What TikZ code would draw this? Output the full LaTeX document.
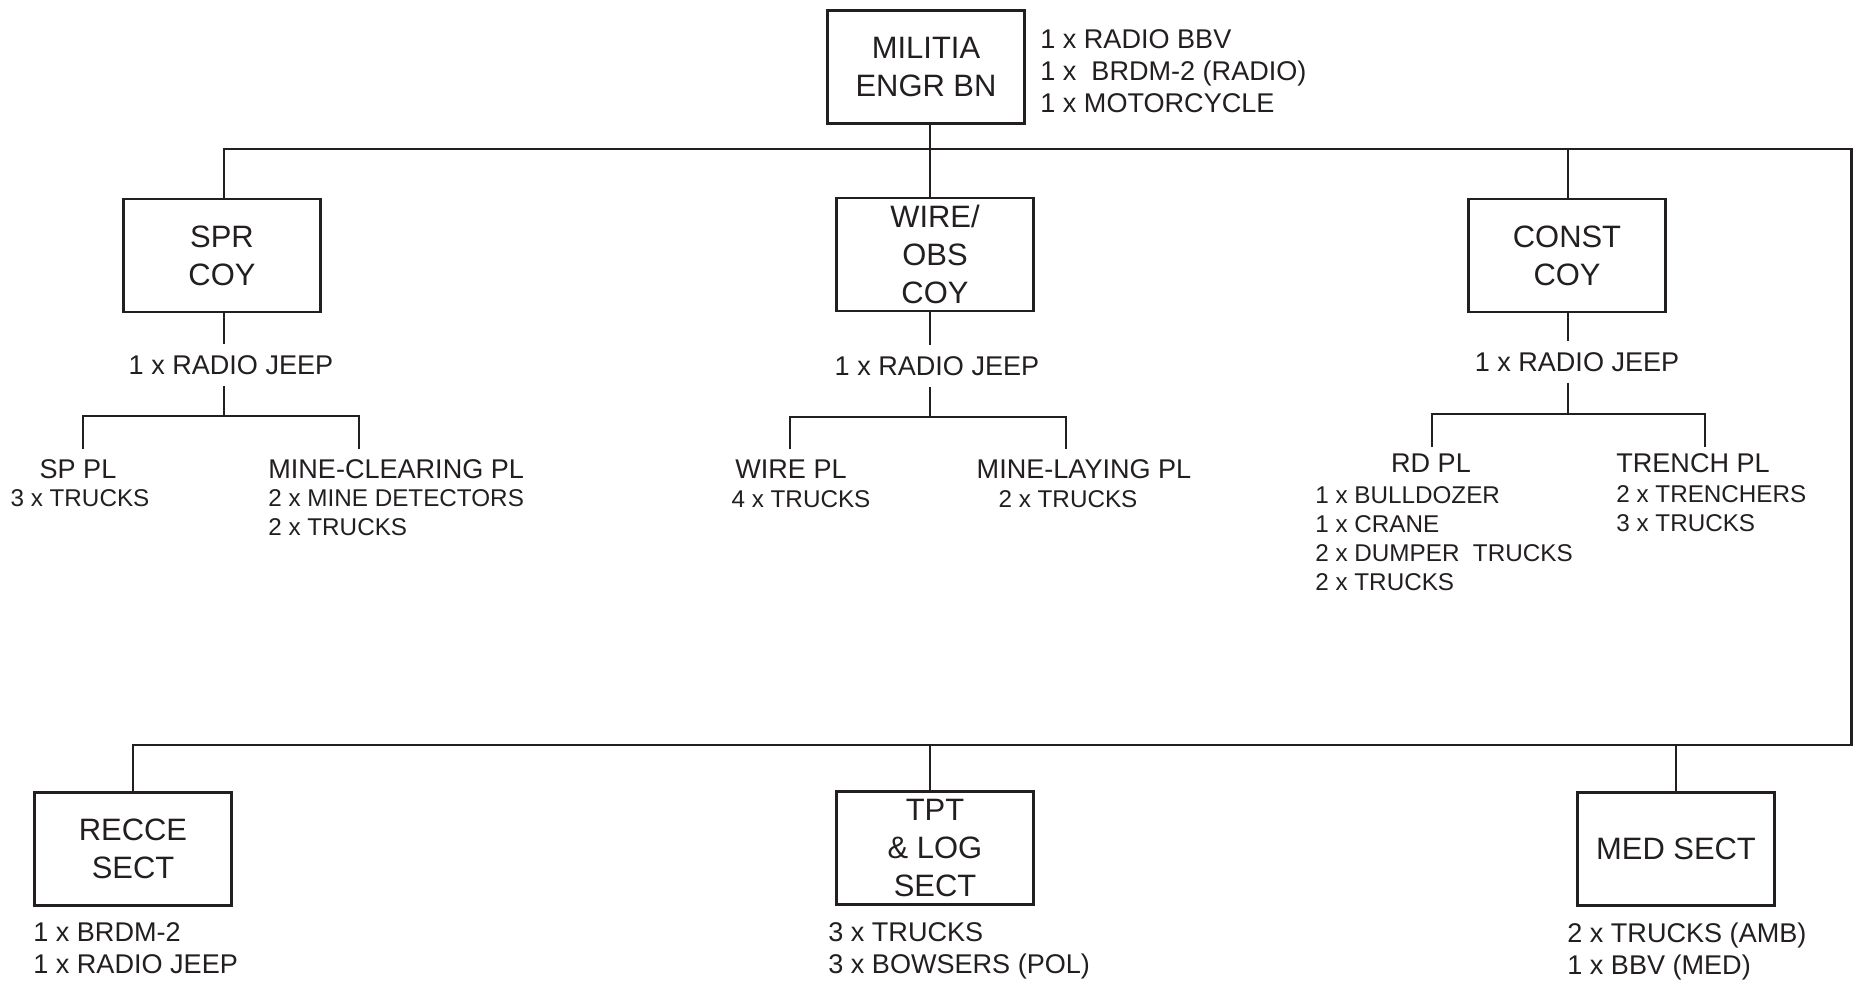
\documentclass[tikz,border=0pt]{standalone}
\usepackage{fontspec}
\setmainfont{Liberation Sans}
\usepackage{tikz}
\usepackage{xcolor}
\definecolor{chartInk}{HTML}{231F20}
\newcommand{\boxFont}{\fontsize{17.6pt}{21.5pt}\selectfont}
\newcommand{\labelFont}{\fontsize{15.4pt}{18pt}\selectfont}
\newcommand{\kitFont}{\fontsize{13.8pt}{16.4pt}\selectfont}
\tikzset{
  unitBox/.style={draw=chartInk, line width=1.3pt, minimum width=3.94cm, minimum height=2.26cm, inner sep=0pt, align=center, font=\boxFont, text=chartInk},
  jeepText/.style={minimum height=0.82cm, inner sep=0pt, font=\labelFont, text=chartInk},
  plHead/.style={inner sep=0pt, font=\labelFont, text=chartInk},
  plKit/.style={inner sep=0pt, font=\kitFont, text=chartInk},
  kitText/.style={inner sep=0pt, align=left, anchor=north west, font=\labelFont, text=chartInk},
  link/.style={draw=chartInk, line width=1.3pt}
}

\begin{document}
\begin{tikzpicture}
  \filldraw[fill=white, draw=none] (0cm,0cm) rectangle (37.08cm,-19.62cm);
  \node[unitBox] (bn) at (18.52cm,-1.34cm) {MILITIA\\ENGR BN};
  \node[kitText] (bnKit) at (20.8cm,-0.59cm) {1 x RADIO BBV\\1 x~ BRDM-2 (RADIO)\\1 x MOTORCYCLE};
  \coordinate (busR) at (37.03cm,-2.98cm);
  \coordinate (busB) at (37.03cm,-14.9cm);

  \node[unitBox] (spr) at (4.44cm,-5.11cm) {SPR\\COY};
  \node[unitBox] (wire) at (18.7cm,-5.09cm) {WIRE/\\OBS\\COY};
  \node[unitBox] (const) at (31.34cm,-5.11cm) {CONST\\COY};

  \node[jeepText] (sprJeep) at (4.62cm,-7.3cm) {1 x RADIO JEEP};
  \coordinate (sprT) at (4.48cm,-8.32cm);
  \coordinate (sprL) at (1.66cm,-8.98cm);
  \coordinate (sprR) at (7.18cm,-8.98cm);
  \node[plHead] (spPl) at (1.56cm,-9.38cm) {SP PL};
  \node[plKit, anchor=north] (spKit) at (1.6cm,-9.79cm) {3 x TRUCKS};
  \node[plHead, anchor=west] (mcPl) at (5.36cm,-9.38cm) {MINE-CLEARING PL};
  \node[plKit, anchor=north west, align=left] (mcKit) at (5.36cm,-9.79cm) {2 x MINE DETECTORS\\2 x TRUCKS};

  \node[jeepText] (wireJeep) at (18.74cm,-7.32cm) {1 x RADIO JEEP};
  \coordinate (wireT) at (18.6cm,-8.34cm);
  \coordinate (wireL) at (15.8cm,-8.98cm);
  \coordinate (wireR) at (21.32cm,-8.98cm);
  \node[plHead] (wirePl) at (15.82cm,-9.38cm) {WIRE PL};
  \node[plKit, anchor=north] (wireKit) at (16.02cm,-9.81cm) {4 x TRUCKS};
  \node[plHead] (mlPl) at (21.68cm,-9.38cm) {MINE-LAYING PL};
  \node[plKit, anchor=north] (mlKit) at (21.36cm,-9.81cm) {2 x TRUCKS};

  \node[jeepText] (constJeep) at (31.54cm,-7.24cm) {1 x RADIO JEEP};
  \coordinate (constT) at (31.36cm,-8.28cm);
  \coordinate (constL) at (28.64cm,-8.94cm);
  \coordinate (constR) at (34.1cm,-8.94cm);
  \node[plHead] (rdPl) at (28.62cm,-9.26cm) {RD PL};
  \node[plKit, anchor=north west, align=left] (rdKit) at (26.3cm,-9.73cm) {1 x BULLDOZER\\1 x CRANE\\2 x DUMPER~ TRUCKS\\2 x TRUCKS};
  \node[plHead, anchor=west] (trPl) at (32.32cm,-9.26cm) {TRENCH PL};
  \node[plKit, anchor=north west, align=left] (trKit) at (32.32cm,-9.71cm) {2 x TRENCHERS\\3 x TRUCKS};

  \node[unitBox] (recce) at (2.66cm,-16.98cm) {RECCE\\SECT};
  \node[unitBox] (tpt) at (18.7cm,-16.96cm) {TPT\\\& LOG\\SECT};
  \node[unitBox] (med) at (33.52cm,-16.98cm) {MED SECT};
  \node[kitText] (recceKit) at (0.66cm,-18.45cm) {1 x BRDM-2\\1 x RADIO JEEP};
  \node[kitText] (tptKit) at (16.56cm,-18.45cm) {3 x TRUCKS\\3 x BOWSERS (POL)};
  \node[kitText] (medKit) at (31.34cm,-18.45cm) {2 x TRUCKS (AMB)\\1 x BBV (MED)};

  \draw[link] (wireT |- bn.south) -- (wireT |- busR);
  \draw[link] (spr.north -| sprT) |- (busR) -- (busB) -| (recce.north);
  \draw[link] (wireT |- wire.north) -- (wireT |- busR);
  \draw[link] (constT |- const.north) -- (constT |- busR);
  \draw[link] (wireT |- tpt.north) -- (wireT |- busB);
  \draw[link] (med.north) -- (med.north |- busB);

  \draw[link] (sprT |- spr.south) -- (sprT |- sprJeep.north);
  \draw[link] (sprT |- sprJeep.south) -- (sprT);
  \draw[link] (sprL) |- (sprT) -| (sprR);
  \draw[link] (wireT |- wire.south) -- (wireT |- wireJeep.north);
  \draw[link] (wireT |- wireJeep.south) -- (wireT);
  \draw[link] (wireL) |- (wireT) -| (wireR);
  \draw[link] (constT |- const.south) -- (constT |- constJeep.north);
  \draw[link] (constT |- constJeep.south) -- (constT);
  \draw[link] (constL) |- (constT) -| (constR);
\end{tikzpicture}
\end{document}
